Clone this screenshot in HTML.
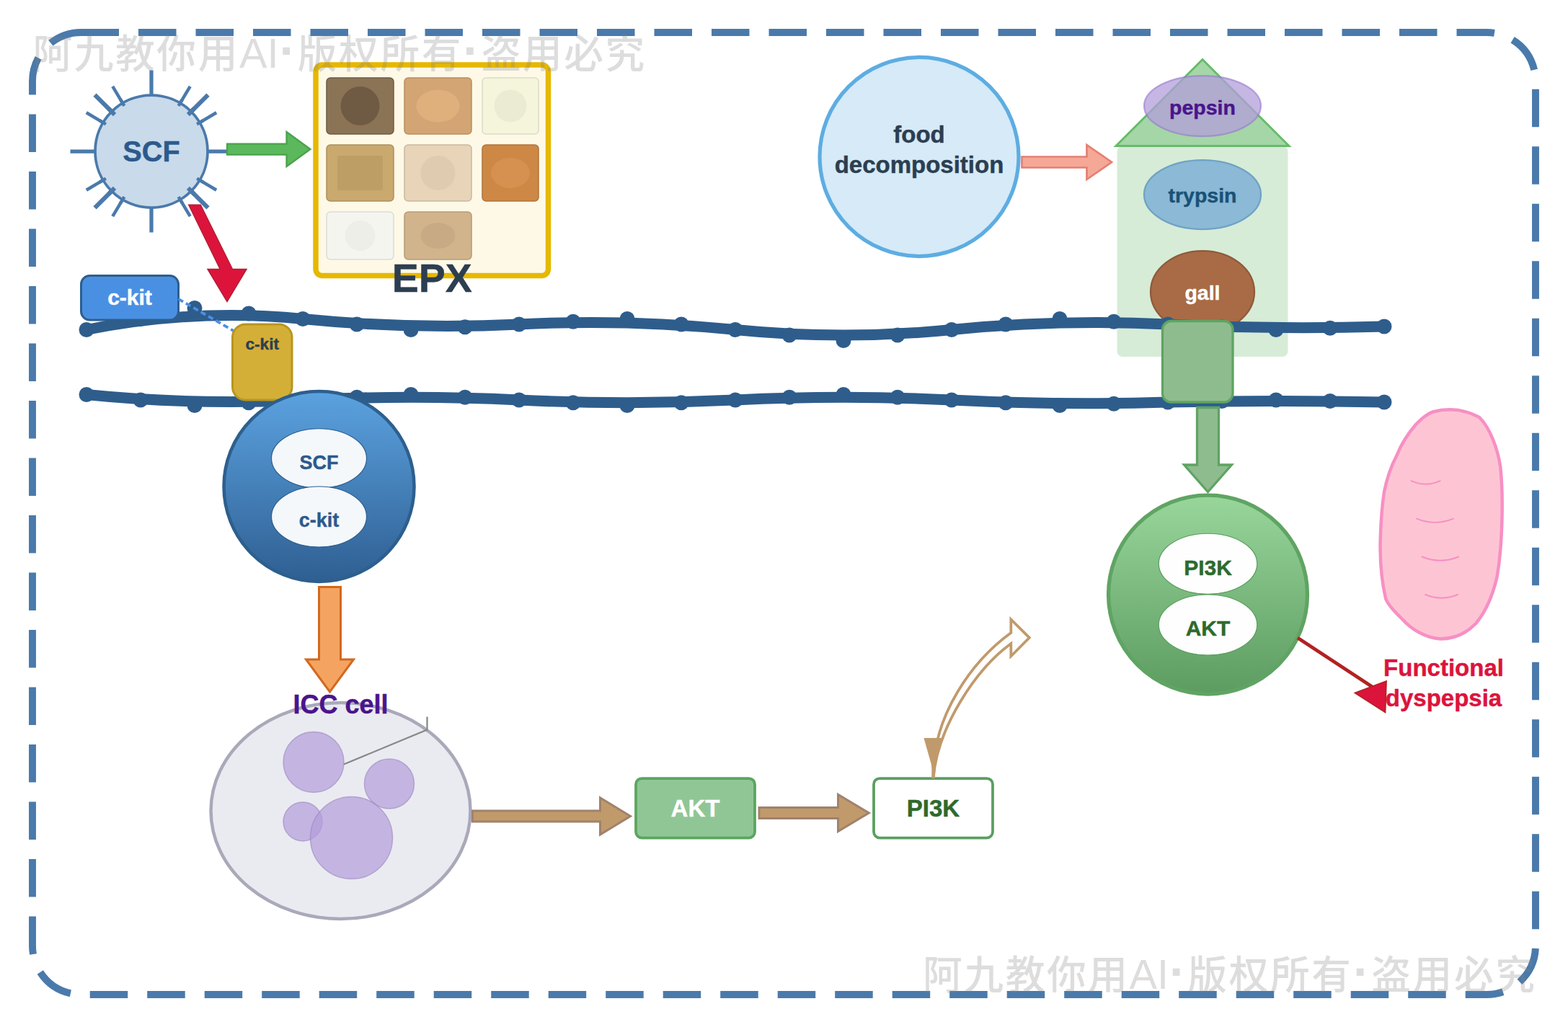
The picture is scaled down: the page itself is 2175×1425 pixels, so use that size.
<!DOCTYPE html>
<html lang="zh">
<head>
<meta charset="utf-8">
<title>SCF / c-kit pathway diagram</title>
<style>
html,body{margin:0;padding:0;background:#ffffff;}
body{width:2175px;height:1425px;overflow:hidden;}
svg{display:block;}
text{font-family:"Liberation Sans","Noto Sans CJK SC",sans-serif;}
.b{font-weight:bold;paint-order:stroke;stroke-width:0.3px;stroke-linejoin:round;}
</style>
</head>
<body>
<svg width="2175" height="1425" viewBox="0 0 1450 950">
<defs>
<linearGradient id="gBlue" x1="0" y1="0" x2="0" y2="1">
<stop offset="0" stop-color="#5ba2e0"/>
<stop offset="1" stop-color="#2f5f92"/>
</linearGradient>
<linearGradient id="gGreen" x1="0" y1="0" x2="0" y2="1">
<stop offset="0" stop-color="#98d69b"/>
<stop offset="1" stop-color="#5d9c61"/>
</linearGradient>
</defs>
<rect x="0" y="0" width="1450" height="950" fill="#ffffff"/>

<rect x="30" y="30" width="1390" height="890" rx="45" ry="45" fill="none" stroke="#4a7aab" stroke-width="6.6" stroke-dasharray="35 18"/>
<line x1="192.00" y1="140.00" x2="215.00" y2="140.00" stroke="#4a7aab" stroke-width="3.5"/>
<line x1="140.00" y1="88.00" x2="140.00" y2="65.00" stroke="#4a7aab" stroke-width="3.5"/>
<line x1="88.00" y1="140.00" x2="65.00" y2="140.00" stroke="#4a7aab" stroke-width="3.5"/>
<line x1="140.00" y1="192.00" x2="140.00" y2="215.00" stroke="#4a7aab" stroke-width="3.5"/>
<line x1="173.94" y1="106.06" x2="192.33" y2="87.67" stroke="#4a7aab" stroke-width="4"/>
<line x1="106.06" y1="106.06" x2="87.67" y2="87.67" stroke="#4a7aab" stroke-width="4"/>
<line x1="106.06" y1="173.94" x2="87.67" y2="192.33" stroke="#4a7aab" stroke-width="4"/>
<line x1="173.94" y1="173.94" x2="192.33" y2="192.33" stroke="#4a7aab" stroke-width="4"/>
<line x1="182.09" y1="114.91" x2="200.13" y2="104.16" stroke="#4a7aab" stroke-width="3"/>
<line x1="165.09" y1="97.91" x2="175.84" y2="79.87" stroke="#4a7aab" stroke-width="3"/>
<line x1="114.91" y1="97.91" x2="104.16" y2="79.87" stroke="#4a7aab" stroke-width="3"/>
<line x1="97.91" y1="114.91" x2="79.87" y2="104.16" stroke="#4a7aab" stroke-width="3"/>
<line x1="97.91" y1="165.09" x2="79.87" y2="175.84" stroke="#4a7aab" stroke-width="3"/>
<line x1="114.91" y1="182.09" x2="104.16" y2="200.13" stroke="#4a7aab" stroke-width="3"/>
<line x1="165.09" y1="182.09" x2="175.84" y2="200.13" stroke="#4a7aab" stroke-width="3"/>
<line x1="182.09" y1="165.09" x2="200.13" y2="175.84" stroke="#4a7aab" stroke-width="3"/>
<circle cx="140" cy="140" r="52" fill="#c9daea" stroke="#4a7aab" stroke-width="2.5"/>
<line x1="173.94" y1="106.06" x2="179.60" y2="100.40" stroke="#4a7aab" stroke-width="4"/>
<line x1="106.06" y1="106.06" x2="100.40" y2="100.40" stroke="#4a7aab" stroke-width="4"/>
<line x1="106.06" y1="173.94" x2="100.40" y2="179.60" stroke="#4a7aab" stroke-width="4"/>
<line x1="173.94" y1="173.94" x2="179.60" y2="179.60" stroke="#4a7aab" stroke-width="4"/>
<line x1="182.09" y1="114.91" x2="188.10" y2="111.33" stroke="#4a7aab" stroke-width="3"/>
<line x1="165.09" y1="97.91" x2="168.67" y2="91.90" stroke="#4a7aab" stroke-width="3"/>
<line x1="114.91" y1="97.91" x2="111.33" y2="91.90" stroke="#4a7aab" stroke-width="3"/>
<line x1="97.91" y1="114.91" x2="91.90" y2="111.33" stroke="#4a7aab" stroke-width="3"/>
<line x1="97.91" y1="165.09" x2="91.90" y2="168.67" stroke="#4a7aab" stroke-width="3"/>
<line x1="114.91" y1="182.09" x2="111.33" y2="188.10" stroke="#4a7aab" stroke-width="3"/>
<line x1="165.09" y1="182.09" x2="168.67" y2="188.10" stroke="#4a7aab" stroke-width="3"/>
<line x1="182.09" y1="165.09" x2="188.10" y2="168.67" stroke="#4a7aab" stroke-width="3"/>
<text x="140" y="149" text-anchor="middle" class="b" font-size="26.5" fill="#2c5a8c" stroke="#2c5a8c">SCF</text>
<polygon points="210,133 265,133 265,122 287,138 265,154 265,143 210,143" fill="#5cb85c" stroke="#4aa24a" stroke-width="1.5" stroke-linejoin="miter"/>
<rect x="292" y="60" width="215" height="195" rx="6" ry="6" fill="#fef9e7" stroke="#e6b800" stroke-width="5"/>
<rect x="302" y="72" width="62" height="52" rx="3.5" ry="3.5" fill="#8b7355" stroke="#6f5c44" stroke-width="1"/>
<ellipse cx="333" cy="98" rx="18" ry="18" fill="#6f5a43"/>
<rect x="374" y="72" width="62" height="52" rx="3.5" ry="3.5" fill="#d4a574" stroke="#b98d62" stroke-width="1"/>
<ellipse cx="405" cy="98" rx="20" ry="15" fill="#e0b07c"/>
<rect x="446" y="72" width="52" height="52" rx="3.5" ry="3.5" fill="#f5f5dc" stroke="#dcdcc6" stroke-width="1"/>
<ellipse cx="472" cy="98" rx="15" ry="15" fill="#ebebd3"/>
<rect x="302" y="134" width="62" height="52" rx="3.5" ry="3.5" fill="#c9a96e" stroke="#ad8f5c" stroke-width="1"/>
<rect x="312" y="144" width="42" height="32" rx="2" fill="#bd9f66"/>
<rect x="374" y="134" width="62" height="52" rx="3.5" ry="3.5" fill="#e8d4b8" stroke="#c9b79e" stroke-width="1"/>
<ellipse cx="405" cy="160" rx="16" ry="16" fill="#dfcbb0"/>
<rect x="446" y="134" width="52" height="52" rx="3.5" ry="3.5" fill="#cd8845" stroke="#b2733a" stroke-width="1"/>
<ellipse cx="472" cy="160" rx="18" ry="14" fill="#d69050"/>
<rect x="302" y="196" width="62" height="44" rx="3.5" ry="3.5" fill="#f5f5f0" stroke="#dcdcd6" stroke-width="1"/>
<ellipse cx="333" cy="218" rx="14" ry="14" fill="#eeeee8"/>
<rect x="374" y="196" width="62" height="44" rx="3.5" ry="3.5" fill="#d2b48c" stroke="#b59a77" stroke-width="1"/>
<ellipse cx="405" cy="218" rx="16" ry="12" fill="#c8ab85"/>
<text x="399.5" y="270" text-anchor="middle" class="b" font-size="37" fill="#2c3e50" stroke="#2c3e50">EPX</text>
<polygon points="174.5,189.5 185.5,189.5 215,249 228,249 210,279 192,249 203.5,249" fill="#dc143c" stroke="#b21e35" stroke-width="1" stroke-linejoin="miter"/>
<circle cx="850" cy="145" r="92" fill="#d6eaf8" stroke="#5dade2" stroke-width="3.5"/>
<text x="850" y="132" text-anchor="middle" class="b" font-size="22" fill="#2c3e50" stroke="#2c3e50">food</text>
<text x="850" y="160" text-anchor="middle" class="b" font-size="22" fill="#2c3e50" stroke="#2c3e50">decomposition</text>
<polygon points="945,145 1005,145 1005,134 1028,150 1005,166 1005,155 945,155" fill="#f5a896" stroke="#e57f73" stroke-width="1.8" stroke-linejoin="miter"/>
<rect x="1033" y="135" width="158" height="195" rx="5" ry="5" fill="#d6ecd7"/>
<polygon points="1112,55 1192,135 1032,135" fill="#a5d6a7" stroke="#66bb6a" stroke-width="2" stroke-linejoin="miter"/>
<ellipse cx="1112" cy="98" rx="54" ry="28" fill="#b39ddb" fill-opacity="0.75" stroke="#9575cd" stroke-opacity="0.6" stroke-width="1.5"/>
<text x="1112" y="106" text-anchor="middle" class="b" font-size="19" fill="#4a148c" stroke="#4a148c">pepsin</text>
<ellipse cx="1112" cy="180" rx="54" ry="32" fill="#8bb9d6" stroke="#6fa3c4" stroke-width="1.5"/>
<text x="1112" y="187.5" text-anchor="middle" class="b" font-size="19" fill="#1a5276" stroke="#1a5276">trypsin</text>
<ellipse cx="1112" cy="270" rx="48" ry="38" fill="#a86b45" stroke="#8f5a3a" stroke-width="1.5"/>
<text x="1112" y="277.5" text-anchor="middle" class="b" font-size="19" fill="#ffffff" stroke="#ffffff">gall</text>
<path d="M80,305 Q180,285 280,295 T480,300 T680,305 T880,305 T1080,300 T1280,302" fill="none" stroke="#2e5d8c" stroke-width="10" stroke-linecap="round"/>
<path d="M80,365 Q180,375 280,370 T480,370 T680,370 T880,370 T1080,372 Q1180,370 1280,372" fill="none" stroke="#2e5d8c" stroke-width="10" stroke-linecap="round"/>
<circle cx="80" cy="305" r="7" fill="#2e5d8c"/>
<circle cx="130" cy="295.0" r="7" fill="#2e5d8c"/>
<circle cx="180" cy="285" r="7" fill="#2e5d8c"/>
<circle cx="230" cy="290.0" r="7" fill="#2e5d8c"/>
<circle cx="280" cy="295" r="7" fill="#2e5d8c"/>
<circle cx="330" cy="300.0" r="7" fill="#2e5d8c"/>
<circle cx="380" cy="305" r="7" fill="#2e5d8c"/>
<circle cx="430" cy="302.5" r="7" fill="#2e5d8c"/>
<circle cx="480" cy="300" r="7" fill="#2e5d8c"/>
<circle cx="530" cy="297.5" r="7" fill="#2e5d8c"/>
<circle cx="580" cy="295" r="7" fill="#2e5d8c"/>
<circle cx="630" cy="300.0" r="7" fill="#2e5d8c"/>
<circle cx="680" cy="305" r="7" fill="#2e5d8c"/>
<circle cx="730" cy="310.0" r="7" fill="#2e5d8c"/>
<circle cx="780" cy="315" r="7" fill="#2e5d8c"/>
<circle cx="830" cy="310.0" r="7" fill="#2e5d8c"/>
<circle cx="880" cy="305" r="7" fill="#2e5d8c"/>
<circle cx="930" cy="300.0" r="7" fill="#2e5d8c"/>
<circle cx="980" cy="295" r="7" fill="#2e5d8c"/>
<circle cx="1030" cy="297.5" r="7" fill="#2e5d8c"/>
<circle cx="1080" cy="300" r="7" fill="#2e5d8c"/>
<circle cx="1130" cy="302.5" r="7" fill="#2e5d8c"/>
<circle cx="1180" cy="305" r="7" fill="#2e5d8c"/>
<circle cx="1230" cy="303.5" r="7" fill="#2e5d8c"/>
<circle cx="1280" cy="302" r="7" fill="#2e5d8c"/>
<circle cx="80" cy="365" r="7" fill="#2e5d8c"/>
<circle cx="130" cy="370.0" r="7" fill="#2e5d8c"/>
<circle cx="180" cy="375" r="7" fill="#2e5d8c"/>
<circle cx="230" cy="372.5" r="7" fill="#2e5d8c"/>
<circle cx="280" cy="370" r="7" fill="#2e5d8c"/>
<circle cx="330" cy="367.5" r="7" fill="#2e5d8c"/>
<circle cx="380" cy="365" r="7" fill="#2e5d8c"/>
<circle cx="430" cy="367.5" r="7" fill="#2e5d8c"/>
<circle cx="480" cy="370" r="7" fill="#2e5d8c"/>
<circle cx="530" cy="372.5" r="7" fill="#2e5d8c"/>
<circle cx="580" cy="375" r="7" fill="#2e5d8c"/>
<circle cx="630" cy="372.5" r="7" fill="#2e5d8c"/>
<circle cx="680" cy="370" r="7" fill="#2e5d8c"/>
<circle cx="730" cy="367.5" r="7" fill="#2e5d8c"/>
<circle cx="780" cy="365" r="7" fill="#2e5d8c"/>
<circle cx="830" cy="367.5" r="7" fill="#2e5d8c"/>
<circle cx="880" cy="370" r="7" fill="#2e5d8c"/>
<circle cx="930" cy="372.5" r="7" fill="#2e5d8c"/>
<circle cx="980" cy="375" r="7" fill="#2e5d8c"/>
<circle cx="1030" cy="373.5" r="7" fill="#2e5d8c"/>
<circle cx="1080" cy="372" r="7" fill="#2e5d8c"/>
<circle cx="1130" cy="371.0" r="7" fill="#2e5d8c"/>
<circle cx="1180" cy="370" r="7" fill="#2e5d8c"/>
<circle cx="1230" cy="371.0" r="7" fill="#2e5d8c"/>
<circle cx="1280" cy="372" r="7" fill="#2e5d8c"/>
<rect x="75" y="255" width="90" height="41" rx="8" ry="8" fill="#4a90e2" stroke="#2d5f8e" stroke-width="2"/>
<text x="120" y="282" text-anchor="middle" class="b" font-size="20" fill="#ffffff" stroke="#ffffff">c-kit</text>
<line x1="165" y1="276.6" x2="216" y2="306.1" stroke="#4a90e2" stroke-width="2.5" stroke-dasharray="5 3"/>
<rect x="215" y="300" width="55" height="70" rx="12" ry="12" fill="#d4af37" stroke="#b8961e" stroke-width="2"/>
<text x="242.5" y="323" text-anchor="middle" class="b" font-size="15" fill="#2c3e50" stroke="#2c3e50">c-kit</text>
<rect x="1075" y="297" width="65" height="75" rx="8" ry="8" fill="#8fbc8f" stroke="#5fa463" stroke-width="2.2"/>
<polygon points="1107,377 1127,377 1127,430 1139,430 1117,455 1095,430 1107,430" fill="#8fbc8f" stroke="#5fa463" stroke-width="2.2" stroke-linejoin="miter"/>
<circle cx="295" cy="450" r="88" fill="url(#gBlue)" stroke="#2d5f8e" stroke-width="3"/>
<ellipse cx="295" cy="424" rx="44" ry="27.5" fill="#f4f8fb" stroke="#2d5f8e" stroke-width="0.8"/>
<ellipse cx="295" cy="478" rx="44" ry="28" fill="#f4f8fb" stroke="#2d5f8e" stroke-width="0.8"/>
<text x="295" y="434" text-anchor="middle" class="b" font-size="18" fill="#2c5a8c" stroke="#2c5a8c">SCF</text>
<text x="295" y="487.3" text-anchor="middle" class="b" font-size="18" fill="#2c5a8c" stroke="#2c5a8c">c-kit</text>
<polygon points="295,543 315,543 315,610 327,610 305,640 283,610 295,610" fill="#f4a460" stroke="#d2691e" stroke-width="2" stroke-linejoin="miter"/>
<ellipse cx="315" cy="750" rx="120" ry="100" fill="#eaebf1" stroke="#a9a9ba" stroke-width="3"/>
<circle cx="290" cy="705" r="28" fill="#b39ddb" fill-opacity="0.7" stroke="#9a86bd" stroke-opacity="0.6" stroke-width="1"/>
<circle cx="360" cy="725" r="23" fill="#b39ddb" fill-opacity="0.7" stroke="#9a86bd" stroke-opacity="0.6" stroke-width="1"/>
<circle cx="280" cy="760" r="18" fill="#b39ddb" fill-opacity="0.7" stroke="#9a86bd" stroke-opacity="0.6" stroke-width="1"/>
<circle cx="325" cy="775" r="38" fill="#b39ddb" fill-opacity="0.7" stroke="#9a86bd" stroke-opacity="0.6" stroke-width="1"/>
<polyline points="318,707 395,675 395,663" fill="none" stroke="#888888" stroke-width="1.5"/>
<text x="315" y="660" text-anchor="middle" class="b" font-size="24" fill="#4a148c" stroke="#4a148c">ICC cell</text>
<polygon points="437,750 555,750 555,738 583,755 555,772 555,760 437,760" fill="#c19a6b" stroke="#a0826d" stroke-width="2" stroke-linejoin="miter"/>
<rect x="588" y="720" width="110" height="55" rx="5.5" ry="5.5" fill="#90c695" stroke="#5aa55f" stroke-width="2.5"/>
<text x="643" y="755.5" text-anchor="middle" class="b" font-size="22" fill="#ffffff" stroke="#ffffff">AKT</text>
<polygon points="702,747 775,747 775,735 803.5,752 775,769 775,757 702,757" fill="#c19a6b" stroke="#a0826d" stroke-width="2" stroke-linejoin="miter"/>
<rect x="808" y="720" width="110" height="55" rx="5.5" ry="5.5" fill="#ffffff" stroke="#5a9e5f" stroke-width="2.5"/>
<text x="863" y="755.5" text-anchor="middle" class="b" font-size="22" fill="#2d6a2d" stroke="#2d6a2d">PI3K</text>
<path d="M863.1,720 C861.4,661.7 900.2,610.6 934.9,585.4 L934.9,573 L951.9,589.9 L934.9,607 L934.9,595.3 C902.2,619.1 866.8,673 863.1,720 Z" fill="#ffffff" stroke="#c19a6b" stroke-width="2.5" stroke-linejoin="miter"/>
<polygon points="854.3,682.6 871.6,682.6 865,707 864.6,711 864.6,720 861.6,720 861.6,711 861.2,707" fill="#c19a6b"/>
<circle cx="1117" cy="550" r="92" fill="url(#gGreen)" stroke="#5fa463" stroke-width="3.5"/>
<ellipse cx="1117" cy="521.5" rx="45.5" ry="28" fill="#fdfefd" stroke="#5a9e5f" stroke-width="0.8"/>
<ellipse cx="1117" cy="578" rx="45.5" ry="28" fill="#fdfefd" stroke="#5a9e5f" stroke-width="0.8"/>
<text x="1117" y="532" text-anchor="middle" class="b" font-size="20" fill="#2d6a2d" stroke="#2d6a2d">PI3K</text>
<text x="1117" y="587.7" text-anchor="middle" class="b" font-size="20" fill="#2d6a2d" stroke="#2d6a2d">AKT</text>
<line x1="1200" y1="590" x2="1270" y2="636" stroke="#b22222" stroke-width="3.2"/>
<polygon points="1282,630 1253,641 1281,659" fill="#dc143c" stroke="#b22222" stroke-width="1.2" stroke-linejoin="miter"/>
<text x="1335" y="625" text-anchor="middle" class="b" font-size="22" fill="#dc143c" stroke="#dc143c">Functional</text>
<text x="1335" y="653" text-anchor="middle" class="b" font-size="22" fill="#dc143c" stroke="#dc143c">dyspepsia</text>
<path d="M1325,381 C1340,377 1355,379 1368,386 C1378,396 1385,415 1387.5,432 C1390,455 1390,500 1384.5,533 C1380,553 1372,568 1365,576.5 C1355,587 1343,591 1332,591 C1318,590 1305,582 1297,573 C1290,566 1284,560 1281.5,554 C1277,535 1276,515 1276.5,498 C1277,480 1278,468 1280,455 C1283,440 1287,430 1292,420.5 C1297,408 1303,400 1309,393 C1314,388 1319,383 1325,381 Z" fill="#fdc5d3" stroke="#f78fc4" stroke-width="3" stroke-linejoin="round"/>
<path d="M1305,444.8 Q1318.4,451 1331.8,444.8" fill="none" stroke="#f78fc4" stroke-width="1.3" stroke-linecap="round"/>
<path d="M1310,479.8 Q1327,486.7 1344,479.8" fill="none" stroke="#f78fc4" stroke-width="1.3" stroke-linecap="round"/>
<path d="M1315,515 Q1332,522 1348.7,515" fill="none" stroke="#f78fc4" stroke-width="1.3" stroke-linecap="round"/>
<path d="M1318,550 Q1333,556.2 1348,550" fill="none" stroke="#f78fc4" stroke-width="1.3" stroke-linecap="round"/>
<text x="30.3" y="62.8" font-size="36.5" font-weight="500" letter-spacing="1.7" fill="#808080" fill-opacity="0.27">阿九教你用<tspan font-size="38.5" font-weight="400" letter-spacing="0">AI</tspan><tspan dx="0.6" font-size="46" font-weight="700" letter-spacing="0">·</tspan><tspan dx="1.6">版权所有</tspan><tspan dx="0.2" font-size="46" font-weight="700" letter-spacing="0">·</tspan><tspan dx="1.6">盗用必究</tspan></text>
<text x="1421" y="914.5" text-anchor="end" font-size="36.5" font-weight="500" letter-spacing="1.7" fill="#808080" fill-opacity="0.27">阿九教你用<tspan font-size="38.5" font-weight="400" letter-spacing="0">AI</tspan><tspan dx="0.6" font-size="46" font-weight="700" letter-spacing="0">·</tspan><tspan dx="1.6">版权所有</tspan><tspan dx="0.2" font-size="46" font-weight="700" letter-spacing="0">·</tspan><tspan dx="1.6">盗用必究</tspan></text>
</svg>
</body>
</html>
